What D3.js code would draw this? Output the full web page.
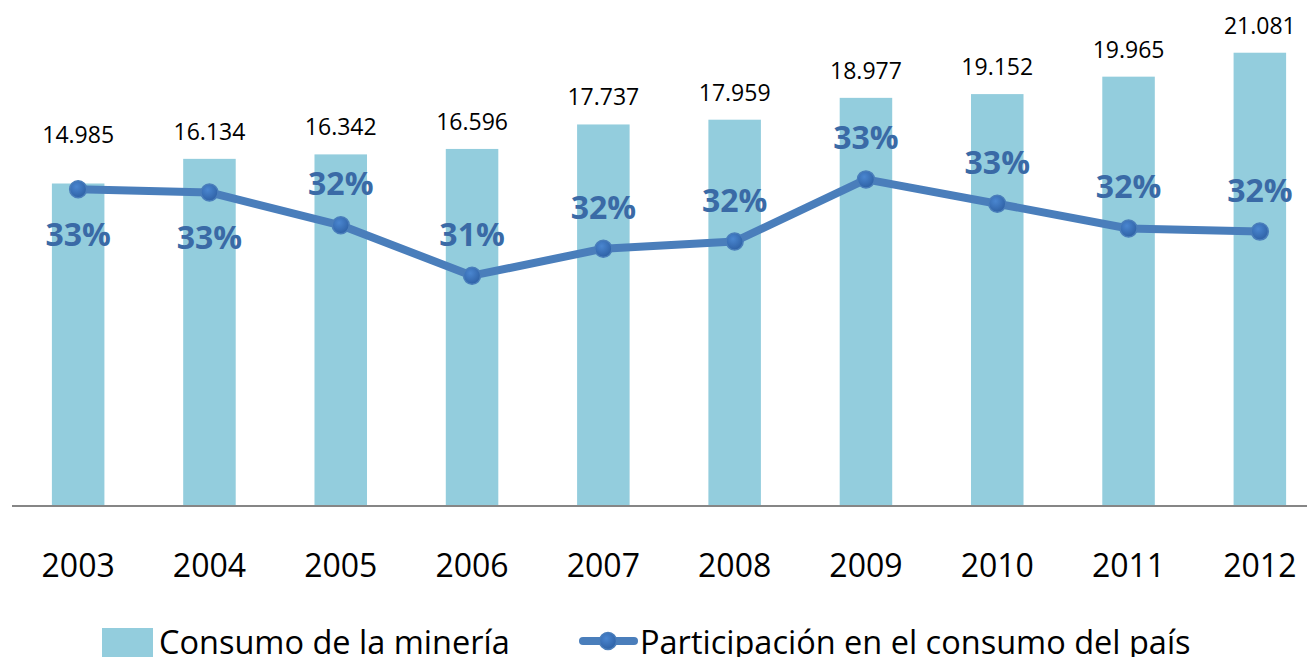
<!DOCTYPE html>
<html>
<head>
<meta charset="utf-8">
<script src="https://cdn.jsdelivr.net/npm/d3@7"></script>
<style>
  body { margin: 0; background: #fff; }
  text { font-family: "Open Sans", sans-serif; }
</style>
</head>
<body>
<svg id="chart" width="1307" height="657"></svg>
<script>
const years = ["2003", "2004", "2005", "2006", "2007", "2008", "2009", "2010", "2011", "2012"];
const consumo = [14985, 16134, 16342, 16596, 17737, 17959, 18977, 19152, 19965, 21081];
const participacion = [33.06, 32.99, 32.26, 31.14, 31.74, 31.9, 33.28, 32.74, 32.19, 32.12];
const labelsBelow = ["2003", "2004"];

const svg = d3.select("#chart");
const width = +svg.attr("width");

const x = d3.scaleBand().domain(years).range([12.5, 1325.5]).paddingInner(0.6).paddingOuter(0.3);
const y = d3.scaleLinear().domain([0, 22000]).range([505, 33]);
const y2 = d3.scaleLinear().domain([31, 34]).range([282, 147]);

const cx = (d) => x(d) + x.bandwidth() / 2;

const defs = svg.append("defs");
const grad = defs.append("radialGradient").attr("id", "dot").attr("cx", "40%").attr("cy", "35%").attr("r", "65%");
grad.append("stop").attr("offset", "0%").attr("stop-color", "#4a86d0");
grad.append("stop").attr("offset", "100%").attr("stop-color", "#2f62a6");

// bars
svg.append("g")
  .selectAll("rect")
  .data(years)
  .join("rect")
  .attr("x", (d) => x(d))
  .attr("y", (d, i) => y(consumo[i]))
  .attr("width", x.bandwidth())
  .attr("height", (d, i) => y(0) - y(consumo[i]))
  .attr("fill", "#93cddd");

// axis line
svg.append("line")
  .attr("x1", 12).attr("x2", width)
  .attr("y1", y(0) + 1).attr("y2", y(0) + 1)
  .attr("stroke", "#868686").attr("stroke-width", 2);

// year labels
svg.append("g")
  .selectAll("text")
  .data(years)
  .join("text")
  .attr("x", cx)
  .attr("y", 577)
  .attr("text-anchor", "middle")
  .attr("font-size", 32)
  .attr("fill", "#000")
  .text((d) => d);

// value labels
const fmt = (v) => d3.format(",")(v).replace(/,/g, ".");
svg.append("g")
  .selectAll("text")
  .data(years)
  .join("text")
  .attr("x", cx)
  .attr("y", (d, i) => (i === 0 ? y(consumo[i]) - 41 : y(consumo[i]) - 19))
  .attr("text-anchor", "middle")
  .attr("font-size", 23)
  .attr("fill", "#000")
  .text((d, i) => fmt(consumo[i]));

// line
const line = d3.line().x((d) => cx(d)).y((d, i) => y2(participacion[i]));
svg.append("path")
  .attr("d", line(years))
  .attr("fill", "none")
  .attr("stroke", "#4a7ebb")
  .attr("stroke-width", 8)
  .attr("stroke-linejoin", "round")
  .attr("stroke-linecap", "round");

svg.append("g")
  .selectAll("circle")
  .data(years)
  .join("circle")
  .attr("cx", cx)
  .attr("cy", (d, i) => y2(participacion[i]))
  .attr("r", 8.5)
  .attr("fill", "url(#dot)")
  .attr("stroke", "#4a7ebb")
  .attr("stroke-width", 1.5);

// percentage labels
svg.append("g")
  .selectAll("text")
  .data(years)
  .join("text")
  .attr("x", cx)
  .attr("y", (d, i) => y2(participacion[i]) + (labelsBelow.includes(d) ? 57 : -30))
  .attr("text-anchor", "middle")
  .attr("font-size", 32)
  .attr("font-weight", "bold")
  .attr("fill", "#3a6aa6")
  .text((d, i) => Math.round(participacion[i]) + "%");

// legend
const legend = svg.append("g");
legend.append("rect").attr("x", 102).attr("y", 628).attr("width", 51).attr("height", 30).attr("fill", "#93cddd");
legend.append("text").attr("x", 159).attr("y", 654).attr("font-size", 32.5).attr("fill", "#000").text("Consumo de la minería");
legend.append("line").attr("x1", 583).attr("x2", 634).attr("y1", 641).attr("y2", 641)
  .attr("stroke", "#4a7ebb").attr("stroke-width", 8).attr("stroke-linecap", "round");
legend.append("circle").attr("cx", 608).attr("cy", 641).attr("r", 8.5)
  .attr("fill", "url(#dot)").attr("stroke", "#4a7ebb").attr("stroke-width", 1.5);
legend.append("text").attr("x", 640).attr("y", 654).attr("font-size", 32.5).attr("fill", "#000").text("Participación en el consumo del país");
</script>
</body>
</html>
